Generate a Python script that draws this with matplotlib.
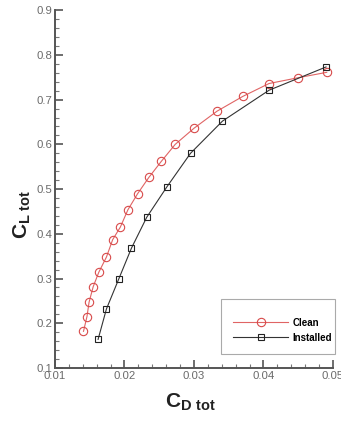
#!/usr/bin/env python3
"""
Drag polar comparison: clean vs. installed configuration.
Output: out.png
"""

import matplotlib

matplotlib.use("Agg")
import matplotlib.pyplot as plt  # noqa: E402
from matplotlib.patches import Rectangle  # noqa: E402
from matplotlib.ticker import MultipleLocator  # noqa: E402

# Clean configuration polar
cd_clean = [0.0141, 0.0146, 0.0149, 0.0155, 0.0163, 0.0174, 0.0183, 0.0194, 0.0205, 0.0219,
            0.0235, 0.0253, 0.0273, 0.0300, 0.0333, 0.0370, 0.0408, 0.0450, 0.0491]
cl_clean = [0.182, 0.215, 0.247, 0.282, 0.314, 0.348, 0.387, 0.415, 0.454, 0.490,
            0.526, 0.562, 0.600, 0.636, 0.674, 0.707, 0.736, 0.749, 0.761]

# Installed configuration polar
cd_inst = [0.0162, 0.0174, 0.0192, 0.0210, 0.0232, 0.0261, 0.0295, 0.0341, 0.0408, 0.0490]
cl_inst = [0.164, 0.232, 0.300, 0.368, 0.437, 0.505, 0.580, 0.652, 0.721, 0.773]

labels = ["Clean", "Installed"]

plt.rcParams["font.family"] = ["Liberation Sans", "DejaVu Sans"]
plt.rcParams["mathtext.fontset"] = "custom"
plt.rcParams["mathtext.rm"] = "Liberation Sans"
plt.rcParams["mathtext.bf"] = "Liberation Sans:bold"

AXIS_COLOR = "#555555"


def main() -> None:
    fig = plt.figure(figsize=(3.41, 4.23), dpi=100)
    ax = fig.add_axes([0.1613, 0.130, 0.8152, 0.846])

    ax.plot(cd_clean, cl_clean, color="#e06464", lw=0.8, marker="o", ms=6,
            mfc="none", mec="#d84a4a", mew=0.8, label=labels[0])
    ax.plot(cd_inst, cl_inst, color="#333333", lw=0.8, marker="s", ms=4,
            mfc="none", mec="#222222", mew=0.8, label=labels[1])

    ax.set_xlim(0.01, 0.05)
    ax.set_ylim(0.1, 0.9)
    ax.xaxis.set_major_locator(MultipleLocator(0.01))
    ax.xaxis.set_minor_locator(MultipleLocator(0.002))
    ax.yaxis.set_major_locator(MultipleLocator(0.1))
    ax.yaxis.set_minor_locator(MultipleLocator(0.02))

    for side in ("top", "right"):
        ax.spines[side].set_visible(False)
    for side in ("left", "bottom"):
        ax.spines[side].set_color(AXIS_COLOR)
        ax.spines[side].set_linewidth(1.4)

    ax.tick_params(which="major", direction="in", length=6, width=1.2,
                   color=AXIS_COLOR, labelcolor="#6a6a6a", labelsize=8.2, pad=2)
    ax.tick_params(which="minor", direction="in", length=3, width=0.8, color="#777777")

    ax.set_xlabel(r"$\mathbf{C}_{\mathbf{D\ tot}}$", fontsize=15, color="#222222")
    ax.xaxis.set_label_coords(0.486, -0.065)
    ax.set_ylabel(r"$\mathbf{C}_{\mathbf{L\ tot}}$", fontsize=15, color="#222222")
    ax.yaxis.set_label_coords(-0.08, 0.43)

    # legend box drawn separately so the padding can be uneven
    box = Rectangle((0.597, 0.039), 0.41, 0.154, transform=ax.transAxes,
                    facecolor="white", edgecolor="#aaaaaa", lw=0.8,
                    clip_on=False, zorder=4)
    ax.add_patch(box)
    leg = ax.legend(loc="center left", bbox_to_anchor=(0.64, 0.106),
                    prop={"weight": "bold", "size": 7}, handlelength=5.7,
                    handletextpad=0.45, borderpad=0, labelspacing=0.5,
                    frameon=False, borderaxespad=0)
    leg.set_zorder(5)

    fig.savefig("out.png", dpi=100)
    plt.close(fig)


if __name__ == "__main__":
    main()
